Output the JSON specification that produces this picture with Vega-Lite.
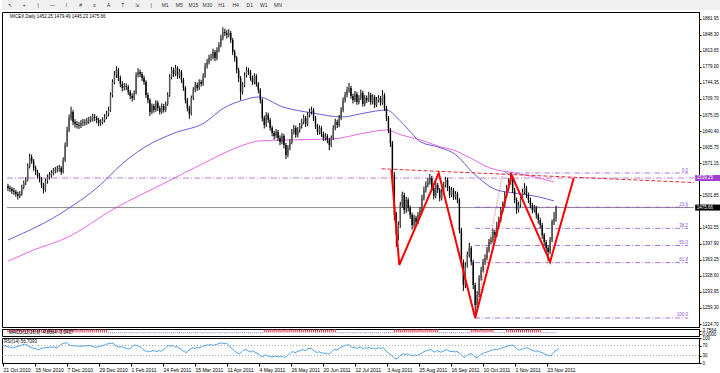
{
"$schema":"https://vega.github.io/schema/vega-lite/v6.json",
"padding":0,
"background":"#ffffff",
"spacing":2,
"bounds":"flush",
"config":{"font":"Liberation Sans","view":{"stroke":"#000000","strokeWidth":1},"axis":{"labelOverlap":false,"labelBound":false,"labelFlush":false}},
"datasets":{
"tools":[{"k":"a","t":"↖"},{"k":"b","t":"+"},{"k":"c","t":"|"},{"k":"d","t":"—"},{"k":"e","t":"/"},{"k":"f","t":"#"},{"k":"g","t":"≡"},{"k":"h","t":"A"},{"k":"j","t":"T"},{"k":"l","t":"⇲"},{"k":"s","t":"|"},{"k":"M1","t":"M1"},{"k":"M5","t":"M5"},{"k":"M15","t":"M15"},{"k":"M30","t":"M30"},{"k":"H1","t":"H1"},{"k":"H4","t":"H4"},{"k":"D1","t":"D1"},{"k":"W1","t":"W1"},{"k":"MN","t":"MN"}],
"fib":[{"i":252,"i2":345,"v":1550.1,"t":"0.0"},{"i":237,"i2":345,"v":1476.4,"t":"23.6"},{"i":237,"i2":345,"v":1430.8,"t":"38.2"},{"i":237,"i2":345,"v":1393.9,"t":"50.0"},{"i":237,"i2":345,"v":1357.0,"t":"61.8"},{"i":237,"i2":345,"v":1237.7,"t":"100.0"}],
"px":[{"v":1539.25,"t":"1539.25","k":"a"},{"v":1475.66,"t":"1475.66","k":"b"}],
"mab":[{"i":0,"v":1405.8},{"i":29.5,"v":1470.4},{"i":49.5,"v":1535.1},{"i":54.5,"v":1556.6},{"i":69.5,"v":1606.2},{"i":84.5,"v":1636.3},{"i":99.5,"v":1657.9},{"i":109.5,"v":1690.2},{"i":119.5,"v":1707.4},{"i":127,"v":1713.9},{"i":139.5,"v":1692.3},{"i":154.5,"v":1679.4},{"i":169.5,"v":1670.8},{"i":181,"v":1679.4},{"i":192,"v":1685.9},{"i":199.5,"v":1660.0},{"i":209.5,"v":1616.9},{"i":218,"v":1606.2},{"i":227,"v":1590.0},{"i":236,"v":1550.1},{"i":248,"v":1513.5},{"i":257,"v":1507.0},{"i":269.5,"v":1498.4},{"i":277,"v":1489.8}],
"mam":[{"i":0,"v":1360.0},{"i":13,"v":1384.2},{"i":29.5,"v":1410.1},{"i":54.5,"v":1474.7},{"i":79.5,"v":1528.6},{"i":99.5,"v":1571.7},{"i":119.5,"v":1610.5},{"i":127,"v":1619.1},{"i":139.5,"v":1621.2},{"i":164.5,"v":1623.4},{"i":181,"v":1636.3},{"i":192,"v":1642.8},{"i":199.5,"v":1632.0},{"i":209.5,"v":1621.2},{"i":219.5,"v":1606.2},{"i":226,"v":1599.7},{"i":234.5,"v":1582.5},{"i":244.5,"v":1560.9},{"i":257,"v":1550.1},{"i":269.5,"v":1539.4},{"i":277,"v":1530.7}],
"zz":[{"i":194.5,"v":1556.6},{"i":198.5,"v":1351.9},{"i":218.5,"v":1550.1},{"i":237,"v":1237.7},{"i":255.5,"v":1545.8},{"i":275,"v":1358.4},{"i":287,"v":1539.4}],
"tl":[{"i":189.5,"v":1559.2},{"i":348,"v":1529.5}],
"fd":[{"i":237,"v":1240},{"i":251,"v":1550.1}],
"c":[
{"i":0,"o":1522,"h":1527,"l":1511,"c":1517.8,"r":70,"m":2.4},
{"i":1,"o":1517.8,"h":1523,"l":1509,"c":1515.7,"r":68,"m":2.8},
{"i":2,"o":1515.7,"h":1520,"l":1505,"c":1511.4,"r":66,"m":2.1},
{"i":3,"o":1511.4,"h":1518,"l":1503,"c":1509.2,"r":64,"m":2.6},
{"i":4,"o":1509.2,"h":1514,"l":1499,"c":1504.9,"r":62,"m":2.9},
{"i":5,"o":1504.9,"h":1510,"l":1493,"c":1500.6,"r":60,"m":2.2},
{"i":6,"o":1500.6,"h":1511,"l":1496,"c":1504.9,"r":63,"m":2.5},
{"i":7,"o":1504.9,"h":1525,"l":1501,"c":1520,"r":66,"m":2.7},
{"i":8,"o":1520,"h":1534,"l":1515,"c":1528.6,"r":68,"m":2.4},
{"i":9,"o":1528.6,"h":1541,"l":1524,"c":1535.1,"r":70,"m":2.8},
{"i":10,"o":1535.1,"h":1571,"l":1532,"c":1565.2,"r":74,"m":2.1},
{"i":11,"o":1565.2,"h":1592,"l":1560,"c":1584.6,"r":76,"m":2.6},
{"i":12,"o":1584.6,"h":1590,"l":1570,"c":1576,"r":72,"m":2.9},
{"i":13,"o":1576,"h":1580,"l":1555,"c":1560.9,"r":66,"m":2.2},
{"i":14,"o":1560.9,"h":1566,"l":1546,"c":1552.3,"r":62,"m":2.5},
{"i":15,"o":1552.3,"h":1557,"l":1538,"c":1543.7,"r":60,"m":2.7},
{"i":16,"o":1543.7,"h":1550,"l":1530,"c":1537.2,"r":58,"m":2.4},
{"i":17,"o":1537.2,"h":1541,"l":1518,"c":1524.3,"r":55,"m":2.8},
{"i":18,"o":1524.3,"h":1529,"l":1506,"c":1513.5,"r":52,"m":2.1},
{"i":19,"o":1513.5,"h":1538,"l":1510,"c":1532.9,"r":58,"m":2.6},
{"i":20,"o":1532.9,"h":1547,"l":1527,"c":1541.5,"r":60,"m":2.9},
{"i":21,"o":1541.5,"h":1552,"l":1536,"c":1545.8,"r":61,"m":2.2},
{"i":22,"o":1545.8,"h":1556,"l":1540,"c":1550.1,"r":62,"m":2.5},
{"i":23,"o":1550.1,"h":1561,"l":1545,"c":1554.5,"r":63,"m":2.7},
{"i":24,"o":1554.5,"h":1563,"l":1549,"c":1556.6,"r":63,"m":2.4},
{"i":25,"o":1556.6,"h":1566,"l":1551,"c":1558.8,"r":64,"m":2.8},
{"i":26,"o":1558.8,"h":1568,"l":1553,"c":1560.9,"r":64,"m":2.1},
{"i":27,"o":1560.9,"h":1565,"l":1546,"c":1552.3,"r":60,"m":2.6},
{"i":28,"o":1552.3,"h":1584,"l":1549,"c":1578.2,"r":68,"m":2.9},
{"i":29,"o":1578.2,"h":1616,"l":1574,"c":1610.5,"r":74,"m":2.2},
{"i":30,"o":1610.5,"h":1650,"l":1606,"c":1642.8,"r":78,"m":2.5},
{"i":31,"o":1642.8,"h":1676,"l":1638,"c":1668.6,"r":80,"m":2.7},
{"i":32,"o":1668.6,"h":1693,"l":1663,"c":1681.6,"r":81,"m":2.4},
{"i":33,"o":1681.6,"h":1686,"l":1653,"c":1660,"r":72,"m":2.8},
{"i":34,"o":1660,"h":1666,"l":1648,"c":1655.7,"r":70,"m":2.1},
{"i":35,"o":1655.7,"h":1662,"l":1646,"c":1653.6,"r":69,"m":2.6},
{"i":36,"o":1653.6,"h":1660,"l":1645,"c":1651.9,"r":68,"m":2.9},
{"i":37,"o":1651.9,"h":1664,"l":1647,"c":1657.9,"r":68,"m":2.2},
{"i":38,"o":1657.9,"h":1667,"l":1651,"c":1660,"r":67,"m":2.5},
{"i":39,"o":1660,"h":1666,"l":1652,"c":1659.1,"r":67,"m":2.7},
{"i":40,"o":1659.1,"h":1669,"l":1654,"c":1662.2,"r":68,"m":2.4},
{"i":41,"o":1662.2,"h":1671,"l":1656,"c":1664.3,"r":68,"m":2.8},
{"i":42,"o":1664.3,"h":1673,"l":1659,"c":1666.5,"r":69,"m":2.1},
{"i":43,"o":1666.5,"h":1678,"l":1661,"c":1670.8,"r":70,"m":2.6},
{"i":44,"o":1670.8,"h":1677,"l":1662,"c":1668.9,"r":69,"m":2.9},
{"i":45,"o":1668.9,"h":1673,"l":1657,"c":1664.3,"r":66,"m":2.2},
{"i":46,"o":1664.3,"h":1669,"l":1651,"c":1657.9,"r":63,"m":2.5},
{"i":47,"o":1657.9,"h":1666,"l":1652,"c":1660,"r":64,"m":2.7},
{"i":48,"o":1660,"h":1670,"l":1655,"c":1664.3,"r":66,"m":2.4},
{"i":49,"o":1664.3,"h":1677,"l":1659,"c":1670.8,"r":68,"m":2.8},
{"i":50,"o":1670.8,"h":1684,"l":1666,"c":1677.3,"r":70,"m":2.1},
{"i":51,"o":1677.3,"h":1693,"l":1672,"c":1685.9,"r":72,"m":-0.6},
{"i":52,"o":1685.9,"h":1724,"l":1682,"c":1718.2,"r":76,"m":-0.5},
{"i":53,"o":1718.2,"h":1752,"l":1713,"c":1746.2,"r":78,"m":-0.7},
{"i":54,"o":1746.2,"h":1770,"l":1741,"c":1761.3,"r":79,"m":-0.6},
{"i":55,"o":1761.3,"h":1780,"l":1755,"c":1772.1,"r":80,"m":-0.5},
{"i":56,"o":1772.1,"h":1777,"l":1748,"c":1754.8,"r":72,"m":-0.7},
{"i":57,"o":1754.8,"h":1760,"l":1735,"c":1741.9,"r":67,"m":-0.6},
{"i":58,"o":1741.9,"h":1748,"l":1726,"c":1733.3,"r":64,"m":-0.5},
{"i":59,"o":1733.3,"h":1744,"l":1728,"c":1737.6,"r":65,"m":-0.7},
{"i":60,"o":1737.6,"h":1743,"l":1729,"c":1735.4,"r":64,"m":-0.6},
{"i":61,"o":1735.4,"h":1740,"l":1718,"c":1724.7,"r":60,"m":-0.5},
{"i":62,"o":1724.7,"h":1729,"l":1709,"c":1716.1,"r":57,"m":-0.7},
{"i":63,"o":1716.1,"h":1722,"l":1704,"c":1711.7,"r":56,"m":-0.6},
{"i":64,"o":1711.7,"h":1728,"l":1707,"c":1722.5,"r":60,"m":-0.5},
{"i":65,"o":1722.5,"h":1767,"l":1719,"c":1761.3,"r":70,"m":-0.7},
{"i":66,"o":1761.3,"h":1776,"l":1756,"c":1767.8,"r":72,"m":-0.6},
{"i":67,"o":1767.8,"h":1773,"l":1757,"c":1763.5,"r":70,"m":-0.5},
{"i":68,"o":1763.5,"h":1768,"l":1748,"c":1754.8,"r":66,"m":-0.7},
{"i":69,"o":1754.8,"h":1760,"l":1740,"c":1746.2,"r":63,"m":-0.6},
{"i":70,"o":1746.2,"h":1750,"l":1712,"c":1718.2,"r":54,"m":-0.5},
{"i":71,"o":1718.2,"h":1723,"l":1700,"c":1707.4,"r":50,"m":-0.7},
{"i":72,"o":1707.4,"h":1711,"l":1673,"c":1681.6,"r":44,"m":-0.6},
{"i":73,"o":1681.6,"h":1700,"l":1677,"c":1694.5,"r":48,"m":-0.5},
{"i":74,"o":1694.5,"h":1699,"l":1680,"c":1685.9,"r":46,"m":-0.7},
{"i":75,"o":1685.9,"h":1707,"l":1682,"c":1701,"r":51,"m":-0.6},
{"i":76,"o":1701,"h":1706,"l":1684,"c":1690.2,"r":48,"m":-0.5},
{"i":77,"o":1690.2,"h":1695,"l":1676,"c":1681.6,"r":45,"m":-0.7},
{"i":78,"o":1681.6,"h":1700,"l":1678,"c":1694.5,"r":50,"m":-0.6},
{"i":79,"o":1694.5,"h":1699,"l":1680,"c":1685.9,"r":47,"m":-0.5},
{"i":80,"o":1685.9,"h":1704,"l":1682,"c":1698.8,"r":52,"m":-0.7},
{"i":81,"o":1698.8,"h":1724,"l":1695,"c":1718.2,"r":58,"m":-0.6},
{"i":82,"o":1718.2,"h":1763,"l":1714,"c":1757,"r":66,"m":-0.5},
{"i":83,"o":1757,"h":1779,"l":1752,"c":1772.1,"r":70,"m":-0.7},
{"i":84,"o":1772.1,"h":1777,"l":1757,"c":1763.5,"r":67,"m":-0.6},
{"i":85,"o":1763.5,"h":1783,"l":1759,"c":1776.4,"r":71,"m":-0.5},
{"i":86,"o":1776.4,"h":1780,"l":1753,"c":1759.1,"r":63,"m":-0.7},
{"i":87,"o":1759.1,"h":1774,"l":1754,"c":1767.8,"r":66,"m":-0.6},
{"i":88,"o":1767.8,"h":1772,"l":1744,"c":1750.5,"r":60,"m":-0.5},
{"i":89,"o":1750.5,"h":1755,"l":1727,"c":1733.3,"r":55,"m":-0.7},
{"i":90,"o":1733.3,"h":1737,"l":1700,"c":1707.4,"r":48,"m":-0.6},
{"i":91,"o":1707.4,"h":1712,"l":1683,"c":1690.2,"r":44,"m":-0.5},
{"i":92,"o":1690.2,"h":1695,"l":1667,"c":1677.3,"r":42,"m":-0.7},
{"i":93,"o":1677.3,"h":1717,"l":1674,"c":1711.7,"r":53,"m":-0.6},
{"i":94,"o":1711.7,"h":1735,"l":1707,"c":1729,"r":58,"m":-0.5},
{"i":95,"o":1729,"h":1746,"l":1724,"c":1739.8,"r":61,"m":-0.7},
{"i":96,"o":1739.8,"h":1745,"l":1727,"c":1733.3,"r":58,"m":-0.6},
{"i":97,"o":1733.3,"h":1752,"l":1729,"c":1746.2,"r":62,"m":-0.5},
{"i":98,"o":1746.2,"h":1751,"l":1736,"c":1741.9,"r":60,"m":-0.7},
{"i":99,"o":1741.9,"h":1765,"l":1738,"c":1759.1,"r":64,"m":-0.6},
{"i":100,"o":1759.1,"h":1787,"l":1755,"c":1780.7,"r":68,"m":-0.5},
{"i":101,"o":1780.7,"h":1796,"l":1775,"c":1789.3,"r":70,"m":-0.7},
{"i":102,"o":1789.3,"h":1805,"l":1784,"c":1797.9,"r":72,"m":-0.6},
{"i":103,"o":1797.9,"h":1807,"l":1792,"c":1800.1,"r":72,"m":-0.5},
{"i":104,"o":1800.1,"h":1818,"l":1795,"c":1810.9,"r":74,"m":-0.7},
{"i":105,"o":1810.9,"h":1815,"l":1791,"c":1797.9,"r":70,"m":-0.6},
{"i":106,"o":1797.9,"h":1821,"l":1793,"c":1815.2,"r":73,"m":-0.5},
{"i":107,"o":1815.2,"h":1832,"l":1810,"c":1825.9,"r":75,"m":-0.7},
{"i":108,"o":1825.9,"h":1848,"l":1821,"c":1841,"r":78,"m":-0.6},
{"i":109,"o":1841,"h":1864,"l":1836,"c":1853.9,"r":80,"m":-0.5},
{"i":110,"o":1853.9,"h":1861,"l":1845,"c":1851.8,"r":79,"m":-0.7},
{"i":111,"o":1851.8,"h":1858,"l":1840,"c":1847.5,"r":77,"m":-0.6},
{"i":112,"o":1847.5,"h":1860,"l":1842,"c":1851.8,"r":78,"m":-0.5},
{"i":113,"o":1851.8,"h":1856,"l":1830,"c":1836.7,"r":70,"m":-0.7},
{"i":114,"o":1836.7,"h":1841,"l":1804,"c":1810.9,"r":60,"m":-0.6},
{"i":115,"o":1810.9,"h":1816,"l":1790,"c":1797.9,"r":55,"m":-0.5},
{"i":116,"o":1797.9,"h":1802,"l":1765,"c":1772.1,"r":46,"m":-0.7},
{"i":117,"o":1772.1,"h":1777,"l":1746,"c":1754.8,"r":42,"m":-0.6},
{"i":118,"o":1754.8,"h":1759,"l":1707,"c":1724.7,"r":36,"m":-0.5},
{"i":119,"o":1724.7,"h":1746,"l":1719,"c":1739.8,"r":42,"m":-0.7},
{"i":120,"o":1739.8,"h":1767,"l":1735,"c":1761.3,"r":50,"m":-0.6},
{"i":121,"o":1761.3,"h":1779,"l":1756,"c":1772.1,"r":54,"m":-0.5},
{"i":122,"o":1772.1,"h":1777,"l":1761,"c":1767.8,"r":52,"m":-0.7},
{"i":123,"o":1767.8,"h":1772,"l":1749,"c":1754.8,"r":47,"m":-0.6},
{"i":124,"o":1754.8,"h":1760,"l":1740,"c":1746.2,"r":44,"m":-0.5},
{"i":125,"o":1746.2,"h":1765,"l":1741,"c":1759.1,"r":49,"m":-0.7},
{"i":126,"o":1759.1,"h":1763,"l":1736,"c":1741.9,"r":43,"m":-0.6},
{"i":127,"o":1741.9,"h":1746,"l":1722,"c":1729,"r":40,"m":-0.5},
{"i":128,"o":1729,"h":1733,"l":1700,"c":1707.4,"r":34,"m":-0.7},
{"i":129,"o":1707.4,"h":1711,"l":1661,"c":1668.6,"r":27,"m":-0.6},
{"i":130,"o":1668.6,"h":1674,"l":1646,"c":1653.6,"r":25,"m":2.4},
{"i":131,"o":1653.6,"h":1681,"l":1649,"c":1675.1,"r":33,"m":2.8},
{"i":132,"o":1675.1,"h":1680,"l":1658,"c":1664.3,"r":30,"m":2.1},
{"i":133,"o":1664.3,"h":1669,"l":1641,"c":1647.1,"r":27,"m":2.6},
{"i":134,"o":1647.1,"h":1652,"l":1629,"c":1636.3,"r":25,"m":2.9},
{"i":135,"o":1636.3,"h":1641,"l":1622,"c":1629.9,"r":24,"m":2.2},
{"i":136,"o":1629.9,"h":1645,"l":1625,"c":1638.5,"r":28,"m":2.5},
{"i":137,"o":1638.5,"h":1643,"l":1619,"c":1625.6,"r":26,"m":2.7},
{"i":138,"o":1625.6,"h":1631,"l":1610,"c":1616.9,"r":24,"m":2.4},
{"i":139,"o":1616.9,"h":1636,"l":1612,"c":1629.9,"r":29,"m":2.8},
{"i":140,"o":1629.9,"h":1634,"l":1603,"c":1610.5,"r":25,"m":2.1},
{"i":141,"o":1610.5,"h":1615,"l":1580,"c":1588.9,"r":22,"m":2.6},
{"i":142,"o":1588.9,"h":1610,"l":1584,"c":1604,"r":29,"m":2.9},
{"i":143,"o":1604,"h":1623,"l":1599,"c":1616.9,"r":34,"m":2.2},
{"i":144,"o":1616.9,"h":1645,"l":1612,"c":1638.5,"r":42,"m":2.5},
{"i":145,"o":1638.5,"h":1654,"l":1633,"c":1647.1,"r":46,"m":2.7},
{"i":146,"o":1647.1,"h":1652,"l":1626,"c":1632,"r":41,"m":2.4},
{"i":147,"o":1632,"h":1649,"l":1627,"c":1642.8,"r":45,"m":2.8},
{"i":148,"o":1642.8,"h":1658,"l":1637,"c":1651.4,"r":48,"m":2.1},
{"i":149,"o":1651.4,"h":1667,"l":1646,"c":1660,"r":51,"m":2.6},
{"i":150,"o":1660,"h":1676,"l":1655,"c":1668.6,"r":54,"m":2.9},
{"i":151,"o":1668.6,"h":1673,"l":1649,"c":1655.7,"r":49,"m":2.2},
{"i":152,"o":1655.7,"h":1681,"l":1651,"c":1675.1,"r":56,"m":2.5},
{"i":153,"o":1675.1,"h":1689,"l":1670,"c":1681.6,"r":58,"m":2.7},
{"i":154,"o":1681.6,"h":1693,"l":1676,"c":1685.9,"r":59,"m":2.4},
{"i":155,"o":1685.9,"h":1690,"l":1662,"c":1668.6,"r":52,"m":2.8},
{"i":156,"o":1668.6,"h":1673,"l":1645,"c":1651.4,"r":46,"m":2.1},
{"i":157,"o":1651.4,"h":1656,"l":1632,"c":1638.5,"r":42,"m":2.6},
{"i":158,"o":1638.5,"h":1653,"l":1633,"c":1647.1,"r":45,"m":2.9},
{"i":159,"o":1647.1,"h":1651,"l":1628,"c":1634.2,"r":41,"m":2.2},
{"i":160,"o":1634.2,"h":1639,"l":1619,"c":1625.6,"r":39,"m":2.5},
{"i":161,"o":1625.6,"h":1636,"l":1620,"c":1629.9,"r":40,"m":2.7},
{"i":162,"o":1629.9,"h":1634,"l":1614,"c":1621.2,"r":38,"m":2.4},
{"i":163,"o":1621.2,"h":1626,"l":1599,"c":1610.5,"r":36,"m":2.8},
{"i":164,"o":1610.5,"h":1631,"l":1606,"c":1625.6,"r":42,"m":2.1},
{"i":165,"o":1625.6,"h":1653,"l":1621,"c":1647.1,"r":50,"m":2.6},
{"i":166,"o":1647.1,"h":1667,"l":1642,"c":1660,"r":55,"m":2.9},
{"i":167,"o":1660,"h":1665,"l":1647,"c":1653.6,"r":52,"m":-0.6},
{"i":168,"o":1653.6,"h":1675,"l":1649,"c":1668.6,"r":58,"m":-0.5},
{"i":169,"o":1668.6,"h":1692,"l":1664,"c":1685.9,"r":63,"m":-0.7},
{"i":170,"o":1685.9,"h":1713,"l":1681,"c":1707.4,"r":68,"m":-0.6},
{"i":171,"o":1707.4,"h":1725,"l":1702,"c":1718.2,"r":70,"m":-0.5},
{"i":172,"o":1718.2,"h":1736,"l":1713,"c":1729,"r":72,"m":-0.7},
{"i":173,"o":1729,"h":1744,"l":1723,"c":1733.3,"r":73,"m":-0.6},
{"i":174,"o":1733.3,"h":1738,"l":1710,"c":1716.1,"r":64,"m":-0.5},
{"i":175,"o":1716.1,"h":1721,"l":1700,"c":1707.4,"r":61,"m":-0.7},
{"i":176,"o":1707.4,"h":1727,"l":1703,"c":1720.4,"r":65,"m":-0.6},
{"i":177,"o":1720.4,"h":1725,"l":1697,"c":1703.1,"r":58,"m":-0.5},
{"i":178,"o":1703.1,"h":1718,"l":1698,"c":1711.7,"r":62,"m":-0.7},
{"i":179,"o":1711.7,"h":1730,"l":1707,"c":1722.5,"r":65,"m":-0.6},
{"i":180,"o":1722.5,"h":1727,"l":1693,"c":1698.8,"r":56,"m":-0.5},
{"i":181,"o":1698.8,"h":1718,"l":1694,"c":1711.7,"r":61,"m":-0.7},
{"i":182,"o":1711.7,"h":1717,"l":1701,"c":1707.4,"r":59,"m":-0.6},
{"i":183,"o":1707.4,"h":1725,"l":1703,"c":1718.2,"r":63,"m":-0.5},
{"i":184,"o":1718.2,"h":1723,"l":1697,"c":1703.1,"r":57,"m":-0.7},
{"i":185,"o":1703.1,"h":1720,"l":1698,"c":1713.9,"r":61,"m":-0.6},
{"i":186,"o":1713.9,"h":1718,"l":1690,"c":1696.7,"r":55,"m":-0.5},
{"i":187,"o":1696.7,"h":1714,"l":1692,"c":1707.4,"r":59,"m":-0.7},
{"i":188,"o":1707.4,"h":1718,"l":1702,"c":1711.7,"r":61,"m":-0.6},
{"i":189,"o":1711.7,"h":1716,"l":1695,"c":1701,"r":57,"m":-0.5},
{"i":190,"o":1701,"h":1729,"l":1697,"c":1718.2,"r":63,"m":-0.7},
{"i":191,"o":1718.2,"h":1722,"l":1684,"c":1690.2,"r":52,"m":-0.6},
{"i":192,"o":1690.2,"h":1695,"l":1662,"c":1668.6,"r":45,"m":-0.5},
{"i":193,"o":1668.6,"h":1673,"l":1636,"c":1642.8,"r":38,"m":-0.7},
{"i":194,"o":1642.8,"h":1647,"l":1606,"c":1614.8,"r":33,"m":-0.6},
{"i":195,"o":1614.8,"h":1619,"l":1538,"c":1545.8,"r":24,"m":-0.5},
{"i":196,"o":1545.8,"h":1552,"l":1448,"c":1459.6,"r":18,"m":2.4},
{"i":197,"o":1459.6,"h":1466,"l":1391,"c":1416.5,"r":16,"m":2.8},
{"i":198,"o":1416.5,"h":1446,"l":1405,"c":1438.1,"r":23,"m":2.1},
{"i":199,"o":1438.1,"h":1488,"l":1432,"c":1481.2,"r":33,"m":2.6},
{"i":200,"o":1481.2,"h":1510,"l":1475,"c":1502.7,"r":38,"m":2.9},
{"i":201,"o":1502.7,"h":1508,"l":1462,"c":1470.4,"r":32,"m":2.2},
{"i":202,"o":1470.4,"h":1499,"l":1464,"c":1492,"r":37,"m":2.5},
{"i":203,"o":1492,"h":1497,"l":1467,"c":1474.7,"r":34,"m":2.7},
{"i":204,"o":1474.7,"h":1480,"l":1451,"c":1459.6,"r":31,"m":2.4},
{"i":205,"o":1459.6,"h":1465,"l":1428,"c":1438.1,"r":28,"m":2.8},
{"i":206,"o":1438.1,"h":1460,"l":1432,"c":1453.2,"r":32,"m":2.1},
{"i":207,"o":1453.2,"h":1458,"l":1437,"c":1444.6,"r":30,"m":2.6},
{"i":208,"o":1444.6,"h":1466,"l":1440,"c":1459.6,"r":34,"m":2.9},
{"i":209,"o":1459.6,"h":1477,"l":1454,"c":1470.4,"r":37,"m":2.2},
{"i":210,"o":1470.4,"h":1503,"l":1466,"c":1496.3,"r":43,"m":2.5},
{"i":211,"o":1496.3,"h":1521,"l":1491,"c":1513.5,"r":47,"m":2.7},
{"i":212,"o":1513.5,"h":1532,"l":1508,"c":1524.3,"r":50,"m":2.4},
{"i":213,"o":1524.3,"h":1539,"l":1519,"c":1530.7,"r":52,"m":2.8},
{"i":214,"o":1530.7,"h":1548,"l":1525,"c":1539.4,"r":54,"m":2.1},
{"i":215,"o":1539.4,"h":1544,"l":1511,"c":1517.8,"r":47,"m":2.6},
{"i":216,"o":1517.8,"h":1522,"l":1493,"c":1500.6,"r":43,"m":2.9},
{"i":217,"o":1500.6,"h":1531,"l":1496,"c":1524.3,"r":50,"m":2.2},
{"i":218,"o":1524.3,"h":1529,"l":1507,"c":1513.5,"r":47,"m":2.5},
{"i":219,"o":1513.5,"h":1518,"l":1489,"c":1496.3,"r":43,"m":-0.6},
{"i":220,"o":1496.3,"h":1516,"l":1491,"c":1509.2,"r":47,"m":-0.5},
{"i":221,"o":1509.2,"h":1531,"l":1504,"c":1524.3,"r":51,"m":-0.7},
{"i":222,"o":1524.3,"h":1542,"l":1519,"c":1535.1,"r":53,"m":-0.6},
{"i":223,"o":1535.1,"h":1540,"l":1511,"c":1517.8,"r":48,"m":-0.5},
{"i":224,"o":1517.8,"h":1522,"l":1496,"c":1502.7,"r":45,"m":-0.7},
{"i":225,"o":1502.7,"h":1520,"l":1498,"c":1513.5,"r":48,"m":-0.6},
{"i":226,"o":1513.5,"h":1518,"l":1492,"c":1498.4,"r":44,"m":-0.5},
{"i":227,"o":1498.4,"h":1511,"l":1493,"c":1504.9,"r":46,"m":-0.7},
{"i":228,"o":1504.9,"h":1510,"l":1485,"c":1492,"r":42,"m":-0.6},
{"i":229,"o":1492,"h":1496,"l":1420,"c":1427.3,"r":33,"m":-0.5},
{"i":230,"o":1427.3,"h":1432,"l":1350,"c":1358.4,"r":26,"m":-0.7},
{"i":231,"o":1358.4,"h":1364,"l":1296,"c":1308.8,"r":22,"m":-0.6},
{"i":232,"o":1308.8,"h":1358,"l":1302,"c":1351.9,"r":30,"m":-0.5},
{"i":233,"o":1351.9,"h":1381,"l":1346,"c":1373.5,"r":35,"m":-0.7},
{"i":234,"o":1373.5,"h":1400,"l":1368,"c":1388.5,"r":38,"m":-0.6},
{"i":235,"o":1388.5,"h":1393,"l":1351,"c":1358.4,"r":32,"m":2.4},
{"i":236,"o":1358.4,"h":1363,"l":1300,"c":1308.8,"r":25,"m":2.8},
{"i":237,"o":1308.8,"h":1314,"l":1240,"c":1265.7,"r":21,"m":2.1},
{"i":238,"o":1265.7,"h":1296,"l":1258,"c":1287.3,"r":27,"m":2.6},
{"i":239,"o":1287.3,"h":1330,"l":1282,"c":1323.9,"r":35,"m":2.9},
{"i":240,"o":1323.9,"h":1348,"l":1318,"c":1341.1,"r":38,"m":2.2},
{"i":241,"o":1341.1,"h":1365,"l":1336,"c":1358.4,"r":42,"m":2.5},
{"i":242,"o":1358.4,"h":1375,"l":1352,"c":1367,"r":44,"m":2.7},
{"i":243,"o":1367,"h":1391,"l":1362,"c":1384.2,"r":47,"m":2.4},
{"i":244,"o":1384.2,"h":1408,"l":1379,"c":1401.5,"r":51,"m":2.8},
{"i":245,"o":1401.5,"h":1413,"l":1396,"c":1405.8,"r":52,"m":2.1},
{"i":246,"o":1405.8,"h":1430,"l":1400,"c":1423,"r":55,"m":2.6},
{"i":247,"o":1423,"h":1428,"l":1410,"c":1416.5,"r":53,"m":-0.6},
{"i":248,"o":1416.5,"h":1445,"l":1412,"c":1438.1,"r":57,"m":-0.5},
{"i":249,"o":1438.1,"h":1456,"l":1433,"c":1448.9,"r":59,"m":-0.7},
{"i":250,"o":1448.9,"h":1477,"l":1444,"c":1470.4,"r":62,"m":-0.6},
{"i":251,"o":1470.4,"h":1489,"l":1465,"c":1481.2,"r":64,"m":-0.5},
{"i":252,"o":1481.2,"h":1510,"l":1476,"c":1502.7,"r":67,"m":-0.7},
{"i":253,"o":1502.7,"h":1525,"l":1497,"c":1517.8,"r":69,"m":2.4},
{"i":254,"o":1517.8,"h":1539,"l":1512,"c":1530.7,"r":71,"m":2.8},
{"i":255,"o":1530.7,"h":1550,"l":1525,"c":1539.4,"r":72,"m":2.1},
{"i":256,"o":1539.4,"h":1544,"l":1507,"c":1513.5,"r":63,"m":2.6},
{"i":257,"o":1513.5,"h":1518,"l":1485,"c":1492,"r":57,"m":2.9},
{"i":258,"o":1492,"h":1497,"l":1462,"c":1470.4,"r":51,"m":2.2},
{"i":259,"o":1470.4,"h":1488,"l":1465,"c":1481.2,"r":54,"m":2.5},
{"i":260,"o":1481.2,"h":1503,"l":1476,"c":1496.3,"r":57,"m":2.7},
{"i":261,"o":1496.3,"h":1516,"l":1491,"c":1509.2,"r":60,"m":2.4},
{"i":262,"o":1509.2,"h":1528,"l":1504,"c":1517.8,"r":61,"m":2.8},
{"i":263,"o":1517.8,"h":1522,"l":1496,"c":1502.7,"r":56,"m":2.1},
{"i":264,"o":1502.7,"h":1508,"l":1485,"c":1492,"r":53,"m":2.6},
{"i":265,"o":1492,"h":1497,"l":1474,"c":1481.2,"r":50,"m":2.9},
{"i":266,"o":1481.2,"h":1486,"l":1463,"c":1470.4,"r":47,"m":2.2},
{"i":267,"o":1470.4,"h":1481,"l":1465,"c":1474.7,"r":49,"m":2.5},
{"i":268,"o":1474.7,"h":1479,"l":1452,"c":1459.6,"r":45,"m":2.7},
{"i":269,"o":1459.6,"h":1464,"l":1441,"c":1448.9,"r":43,"m":2.4},
{"i":270,"o":1448.9,"h":1454,"l":1430,"c":1438.1,"r":40,"m":2.8},
{"i":271,"o":1438.1,"h":1443,"l":1408,"c":1416.5,"r":35,"m":-0.6},
{"i":272,"o":1416.5,"h":1421,"l":1393,"c":1401.5,"r":32,"m":-0.5},
{"i":273,"o":1401.5,"h":1406,"l":1378,"c":1388.5,"r":30,"m":-0.7},
{"i":274,"o":1388.5,"h":1394,"l":1360,"c":1379.9,"r":29,"m":-0.6},
{"i":275,"o":1379.9,"h":1412,"l":1375,"c":1405.8,"r":38,"m":-0.5},
{"i":276,"o":1405.8,"h":1450,"l":1401,"c":1444.6,"r":49,"m":-0.7},
{"i":277,"o":1444.6,"h":1466,"l":1438,"c":1452.2,"r":52,"m":-0.6},
{"i":278,"o":1452.25,"h":1479.49,"l":1445.23,"c":1475.66,"r":56.7,"m":-0.5}
]
},
"vconcat":[
{
"width":720,"height":10,
"view":{"fill":"#F0F0F0","stroke":null},
"data":{"name":"tools"},
"mark":{"type":"text","fontSize":5,"color":"#333333"},
"encoding":{
"x":{"field":"k","type":"nominal","sort":null,"scale":{"type":"point","range":[1,283],"padding":0.5},"axis":null},
"text":{"field":"t"}
}
},
{
"width":697,"height":315,
"layer":[
{"data":{"values":[{"v":1539.25}]},"mark":{"type":"rule","color":"#C27FD6","strokeWidth":1,"strokeDash":[6,2,1,2]},
"encoding":{"x":{"datum":-0.5,"scale":{"domain":[-0.5,348],"nice":false,"zero":false},"axis":null},"x2":{"datum":348},
"y":{"field":"v","type":"quantitative","scale":{"domain":[1218.3,1897],"nice":false,"zero":false},
"axis":{"orient":"right","values":[1224.7,1259.3,1293.95,1328.6,1363.25,1397.9,1432.55,1501.85,1571.15,1605.75,1640.4,1675.05,1709.7,1744.35,1779,1813.65,1848.3,1881.95],"tickCount":40,"format":".2f","title":null,"grid":false,"domainColor":"#000000","tickColor":"#000000","tickSize":2,"labelFontSize":4.5,"labelPadding":1,"labelColor":"#000000","labelOverlap":false,"labelFlush":false,"labelBound":false}}}},
{"data":{"values":[{"v":1475.66}]},"mark":{"type":"rule","color":"#8C8C8C","strokeWidth":1},
"encoding":{"x":{"datum":-0.5,"axis":null},"x2":{"datum":348},"y":{"field":"v","type":"quantitative"}}},
{"data":{"name":"fib"},"mark":{"type":"rule","color":"#8E52CC","strokeWidth":0.8,"strokeDash":[5,2,1,2]},
"encoding":{"x":{"field":"i","type":"quantitative","axis":null},"x2":{"field":"i2"},"y":{"field":"v","type":"quantitative"}}},
{"data":{"name":"fib"},"mark":{"type":"text","align":"right","baseline":"bottom","dy":-0.5,"fontSize":4.5,"color":"#8E52CC"},
"encoding":{"x":{"field":"i2","type":"quantitative","axis":null},"y":{"field":"v","type":"quantitative"},"text":{"field":"t"}}},
{"data":{"name":"mab"},"mark":{"type":"line","color":"#3A3ACF","strokeWidth":0.8,"interpolate":"monotone"},
"encoding":{"x":{"field":"i","type":"quantitative","axis":null},"y":{"field":"v","type":"quantitative"}}},
{"data":{"name":"mam"},"mark":{"type":"line","color":"#E040E0","strokeWidth":0.8,"interpolate":"monotone"},
"encoding":{"x":{"field":"i","type":"quantitative","axis":null},"y":{"field":"v","type":"quantitative"}}},
{"data":{"name":"c"},"mark":{"type":"rule","color":"#000000","strokeWidth":1},
"encoding":{"x":{"field":"i","type":"quantitative","axis":null},"y":{"field":"l","type":"quantitative"},"y2":{"field":"h"}}},
{"data":{"name":"c"},"mark":{"type":"bar","size":1.4},
"encoding":{"x":{"field":"i","type":"quantitative","axis":null},"y":{"field":"o","type":"quantitative"},"y2":{"field":"c"},"color":{"condition":{"test":"datum.c>=datum.o","value":"#555555"},"value":"#000000"}}},
{"data":{"name":"tl"},"mark":{"type":"line","color":"#E03030","strokeWidth":1,"strokeDash":[4,2]},
"encoding":{"x":{"field":"i","type":"quantitative","axis":null},"y":{"field":"v","type":"quantitative"}}},
{"data":{"name":"fd"},"mark":{"type":"line","color":"#E03030","strokeWidth":0.8,"strokeDash":[1,1.5]},
"encoding":{"x":{"field":"i","type":"quantitative","axis":null},"y":{"field":"v","type":"quantitative"}}},
{"data":{"name":"zz"},"mark":{"type":"line","color":"#FF0000","strokeWidth":2},
"encoding":{"x":{"field":"i","type":"quantitative","axis":null},"y":{"field":"v","type":"quantitative"}}},
{"data":{"values":[{"t":"MICEX,Daily  1452.25 1479.49 1445.23 1475.66"}]},"mark":{"type":"text","align":"left","baseline":"top","dx":3,"dy":2,"fontSize":4.5,"color":"#000000"},
"encoding":{"x":{"datum":-0.5,"axis":null},"y":{"datum":1897},"text":{"field":"t"}}},
{"data":{"name":"px"},"mark":{"type":"rule","strokeWidth":6},
"encoding":{"x":{"datum":348.6,"axis":null},"x2":{"datum":362},"y":{"field":"v","type":"quantitative"},"color":{"condition":{"test":"datum.k=='a'","value":"#A040D0"},"value":"#000000"}}},
{"data":{"name":"px"},"mark":{"type":"text","align":"left","baseline":"middle","dx":1.5,"fontSize":4.5,"color":"#FFFFFF"},
"encoding":{"x":{"datum":348.6,"axis":null},"y":{"field":"v","type":"quantitative"},"text":{"field":"t"}}}
]
},
{
"width":697,"height":7,
"layer":[
{"data":{"name":"c"},"mark":{"type":"bar","size":1},
"encoding":{"x":{"field":"i","type":"quantitative","scale":{"domain":[-0.5,348],"nice":false,"zero":false},"axis":null},
"y":{"field":"m","type":"quantitative","scale":{"domain":[-3,3],"nice":false,"zero":false},
"axis":{"orient":"right","values":[-1.5,1.5],"tickCount":10,"labelExpr":"datum.value>0?'3.7564':'0.0000'","title":null,"grid":false,"domainColor":"#000000","tickColor":"#000000","tickSize":2,"labelFontSize":4.5,"labelPadding":1,"labelColor":"#000000","labelOverlap":false,"labelFlush":false,"labelBound":false}},
"y2":{"datum":0},"color":{"condition":{"test":"datum.m>0","value":"#D8304F"},"value":"#3A3AD0"}}},
{"data":{"values":[{"t":"MACD(12,26,9) -4.8664 -3.3437"}]},"mark":{"type":"text","align":"left","baseline":"top","dx":2,"dy":0.5,"fontSize":4.5,"color":"#000000"},
"encoding":{"x":{"datum":-0.5,"axis":null},"y":{"datum":3},"text":{"field":"t"}}}
]
},
{
"width":697,"height":25,
"layer":[
{"data":{"name":"c"},"mark":{"type":"line","color":"#2A8FE0","strokeWidth":0.8},
"encoding":{"x":{"field":"i","type":"quantitative","scale":{"domain":[-0.5,348],"nice":false,"zero":false},
"axis":{"values":[0,16,32,48,64,80,96,112,128,144,160,176,192,208,224,240,256,272],"tickCount":40,"labelExpr":"['21 Oct 2010','15 Nov 2010','7 Dec 2010','29 Dec 2010','1 Feb 2011','24 Feb 2011','15 Mar 2011','11 Apr 2011','4 May 2011','26 May 2011','20 Jun 2011','12 Jul 2011','3 Aug 2011','25 Aug 2011','16 Sep 2011','10 Oct 2011','1 Nov 2011','23 Nov 2011'][round(datum.value/16)]","labelAlign":"left","labelFontSize":5,"labelColor":"#000000","tickSize":3,"tickColor":"#000000","domainColor":"#000000","labelPadding":1,"title":null,"grid":false,"labelOverlap":false,"labelFlush":false,"labelBound":false}},
"y":{"field":"r","type":"quantitative","scale":{"domain":[0,100],"nice":false,"zero":false},
"axis":{"orient":"right","values":[0,30,70,100],"tickCount":10,"title":null,"grid":false,"domainColor":"#000000","tickColor":"#000000","tickSize":2,"labelFontSize":4.5,"labelPadding":1,"labelColor":"#000000","labelOverlap":false,"labelFlush":false,"labelBound":false}}}},
{"data":{"values":[{"v":70},{"v":30}]},"mark":{"type":"rule","color":"#9A9A9A","strokeWidth":0.8,"strokeDash":[1,2]},
"encoding":{"x":{"datum":-0.5},"x2":{"datum":348},"y":{"field":"v","type":"quantitative"}}},
{"data":{"values":[{"t":"RSI(14) 56.7093"}]},"mark":{"type":"text","align":"left","baseline":"top","dx":2,"dy":1,"fontSize":4.5,"color":"#000000"},
"encoding":{"x":{"datum":-0.5},"y":{"datum":100},"text":{"field":"t"}}}
]
}
]
}
